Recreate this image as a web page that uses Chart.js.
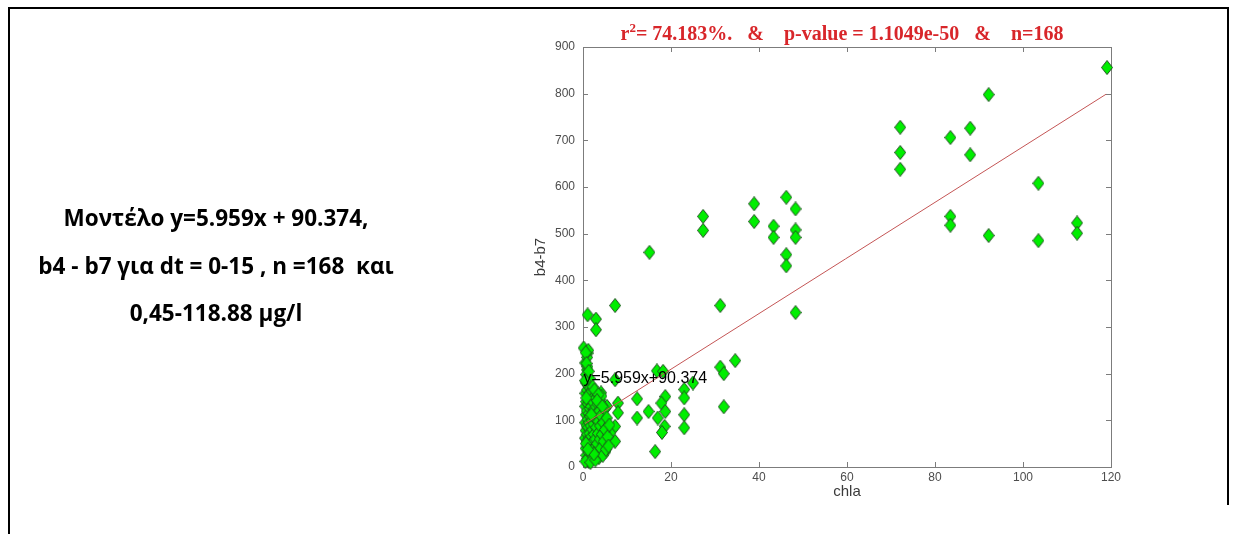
<!DOCTYPE html>
<html>
<head>
<meta charset="utf-8">
<script src="https://cdn.jsdelivr.net/npm/chart.js@4.4.0/dist/chart.umd.min.js"></script>
<style>
    html, body { margin: 0; padding: 0; background: #fff; }
    canvas { display: block; }
</style>
</head>
<body>
<canvas id="chlaScatter" width="1237" height="534"></canvas>
<script>
// chla (x) and b4-b7 (y)
const chlaValues = [
    15.1, 27.3, 27.3, 38.9, 38.9, 43.3, 43.3, 46.2, 46.2, 46.2, 48.3, 48.3, 48.3,
    119.1, 92.2, 72.1, 72.1, 72.1, 83.5, 88.0, 88.0, 103.5, 83.5, 83.5, 92.2, 103.5, 112.3, 112.3,
    31.2, 48.3, 34.6, 31.2, 32.0, 32.0,
    7.3, 1.05, 2.95, 2.95, 0.15, 1.05, 0.5, 0.9, 0.75, 7.3, 16.8, 18.2, 23.0, 23.0, 25.0,
    12.3, 12.3, 14.9, 17.0, 18.7, 17.8, 18.7, 18.55, 17.95, 16.4, 23.0, 23.0, 7.95, 7.95,
    7.3, 7.3, 5.1, 6.2, 4.1, 3.9, 5.45, 1.3,
    0.45, 0.5, 0.5, 0.55, 0.6, 0.6, 0.65, 0.7, 0.7, 0.75, 0.8, 0.8, 0.85, 0.9, 0.95, 1.0,
    1.0, 1.05, 1.1, 1.1, 1.15, 1.2, 1.2, 1.25, 1.3, 1.35, 1.4, 1.45, 1.5, 1.55, 1.6, 1.65,
    1.7, 1.75, 1.8, 1.85, 1.9, 2.0, 2.0, 2.1, 2.15, 2.2, 2.3, 2.35, 2.4, 2.5, 2.5, 2.6,
    2.7, 2.8, 2.9, 3.0, 3.0, 3.1, 3.2, 3.3, 3.4, 3.5, 3.6, 3.7, 3.8, 3.9, 4.0, 4.1,
    4.2, 4.3, 4.5, 4.6, 4.7, 4.9, 5.0, 5.2, 5.4, 5.6, 5.8, 6.0, 0.55, 1.2, 0.6, 1.0,
    0.7, 1.5, 2.2, 0.8, 1.3, 2.6, 3.5, 0.5, 1.7, 2.8, 0.65, 1.9, 3.2, 4.4, 2.45, 1.1, 0.75
]
const b4b7Values = [
    460, 537, 507, 564, 526, 516, 492, 578, 455, 431, 553, 508, 492,
    856, 798, 728, 674, 638, 706, 726, 669, 608, 537, 518, 496, 485, 523, 501,
    346, 331, 228, 214, 200, 129,
    346, 326, 317, 294, 255, 244, 223, 208, 183, 187, 206, 205, 166, 148, 180,
    146, 105, 119, 105, 151, 137, 119, 87, 74, 33, 112, 84, 137, 116,
    87, 55, 33, 73, 159, 144, 130, 12,
    62, 95, 130, 158, 40, 78, 112, 140, 198, 25, 55, 88, 120, 165, 235, 18,
    70, 102, 135, 150, 45, 85, 175, 60, 115, 30, 95, 142, 72, 125, 50, 108,
    160, 88, 35, 130, 65, 100, 145, 22, 80, 118, 55, 138, 92, 40, 70, 125,
    105, 60, 148, 30, 85, 115, 50, 135, 72, 98, 20, 120, 60, 88, 40, 110,
    152, 70, 25, 95, 55, 125, 80, 38, 105, 65, 45, 90, 12, 250, 245, 215,
    180, 190, 172, 222, 205, 165, 155, 185, 10, 15, 50, 112, 142, 130, 28, 38, 148
]
// fitted line end points (model y = 5.959x + 90.374 over 0.45..118.88)
const fitX = [0.45, 118.88]
const fitY = [93.06, 798.79]

const xTicks = [0, 20, 40, 60, 80, 100, 120]
const yTicks = [0, 100, 200, 300, 400, 500, 600, 700, 800, 900]

const xLabel = 'chla'
const yLabel = 'b4-b7'
const equationText = 'y=5.959x+90.374'
const equationAt = [0.1, 189]
const titleHead = 'r'
const titleSup = '2'
const titleTail = '= 74.183%.   &    p-value = 1.1049e-50   &    n=168'
const modelLines = [
    'Μοντέλο y=5.959x + 90.374,',
    'b4 - b7 για dt = 0-15 , n =168  και',
    '0,45-118.88 μg/l'
]

const points = chlaValues.map((v, i) => ({ x: v, y: b4b7Values[i] }))
const fitPoints = fitX.map((v, i) => ({ x: v, y: fitY[i] }))

const axisColor = '#7c7c7c'
const tickColor = '#4d4d4d'

// matlab-like diamond, a bit taller than wide
const diamond = document.createElement('canvas')
diamond.width = 12
diamond.height = 15
{
    const d = diamond.getContext('2d')
    d.beginPath()
    d.moveTo(6, 0.5); d.lineTo(11.5, 7.5); d.lineTo(6, 14.5); d.lineTo(0.5, 7.5)
    d.closePath()
    d.fillStyle = '#00ee00'
    d.fill()
    d.strokeStyle = '#1f4f1f'
    d.lineWidth = 1
    d.stroke()
}

const axesBox = {
    id: 'axesBox',
    beforeDatasetsDraw(chart) {
        const { ctx, chartArea: { left, right, top, bottom }, scales: { x, y } } = chart
        ctx.save()
        ctx.strokeStyle = axisColor
        ctx.lineWidth = 1
        ctx.strokeRect(Math.round(left) + 0.5, Math.round(top) + 0.5, Math.round(right - left), Math.round(bottom - top))
        ctx.beginPath()
        xTicks.forEach(v => {
            const px = Math.round(x.getPixelForValue(v)) + 0.5
            ctx.moveTo(px, bottom); ctx.lineTo(px, bottom - 5)
            ctx.moveTo(px, top); ctx.lineTo(px, top + 5)
        })
        yTicks.forEach(v => {
            const py = Math.round(y.getPixelForValue(v)) + 0.5
            ctx.moveTo(left, py); ctx.lineTo(left + 5, py)
            ctx.moveTo(right, py); ctx.lineTo(right - 5, py)
        })
        ctx.stroke()
        ctx.restore()
    }
}

const annotations = {
    id: 'annotations',
    afterDraw(chart) {
        const { ctx, chartArea: { left, right, top, bottom }, scales: { x, y } } = chart
        const midX = (left + right) / 2
        ctx.save()

        // outer frame of the page
        ctx.strokeStyle = '#000'
        ctx.lineWidth = 2
        ctx.beginPath()
        ctx.moveTo(9, 534); ctx.lineTo(9, 8); ctx.lineTo(1228, 8); ctx.lineTo(1228, 505)
        ctx.stroke()

        // equation text next to the cluster
        ctx.fillStyle = '#000'
        ctx.font = '16px "Liberation Sans", Arial, sans-serif'
        ctx.textAlign = 'left'
        ctx.textBaseline = 'middle'
        ctx.fillText(equationText, x.getPixelForValue(equationAt[0]), y.getPixelForValue(equationAt[1]))

        // axis titles
        ctx.fillStyle = '#3a3a3a'
        ctx.font = '15px "Liberation Sans", Arial, sans-serif'
        ctx.textAlign = 'center'
        ctx.fillText(xLabel, midX, bottom + 25)
        ctx.save()
        ctx.translate(left - 42, (top + bottom) / 2)
        ctx.rotate(-Math.PI / 2)
        ctx.fillText(yLabel, 0, 0)
        ctx.restore()

        // red title with superscript
        ctx.fillStyle = '#d8262a'
        ctx.textBaseline = 'alphabetic'
        ctx.textAlign = 'left'
        const bigFont = 'bold 20px "Liberation Serif", "Times New Roman", serif'
        const supFont = 'bold 13px "Liberation Serif", "Times New Roman", serif'
        ctx.font = bigFont
        const wHead = ctx.measureText(titleHead).width
        const wTail = ctx.measureText(titleTail).width
        ctx.font = supFont
        const wSup = ctx.measureText(titleSup).width
        let tx = midX - 5 - (wHead + wSup + wTail) / 2
        const ty = top - 7
        ctx.font = bigFont
        ctx.fillText(titleHead, tx, ty)
        tx += wHead
        ctx.font = supFont
        ctx.fillText(titleSup, tx, ty - 8)
        tx += wSup
        ctx.font = bigFont
        ctx.fillText(titleTail, tx, ty)

        // model description on the left
        ctx.fillStyle = '#000'
        ctx.font = 'bold 22.5px "Open Sans", sans-serif'
        ctx.textAlign = 'center'
        const baselines = [226, 274, 321]
        modelLines.forEach((t, i) => ctx.fillText(t, 216, baselines[i]))

        ctx.restore()
    }
}

new Chart(document.getElementById('chlaScatter'), {
    type: 'scatter',
    data: {
        datasets: [
            {
                type: 'line',
                label: 'fit',
                data: fitPoints,
                borderColor: '#c45555',
                borderWidth: 1,
                pointRadius: 0,
                fill: false,
                clip: false,
            },
            {
                label: 'b4-b7',
                data: points,
                pointStyle: diamond,
                pointRadius: 6.5,
                pointHoverRadius: 6.5,
                clip: false,
            }
        ]
    },
    plugins: [axesBox, annotations],
    options: {
        responsive: false,
        animation: false,
        events: [],
        layout: { padding: { left: 0, right: 126, top: 47, bottom: 0 } },
        scales: {
            x: {
                type: 'linear',
                min: 0,
                max: 120,
                afterFit: s => { s.height = 67 },
                afterBuildTicks: s => { s.ticks = xTicks.map(v => ({ value: v })) },
                grid: { display: false, drawTicks: false },
                border: { display: false },
                ticks: { color: tickColor, font: { size: 12, family: '"Liberation Sans", Arial' }, padding: 3, maxRotation: 0 },
            },
            y: {
                type: 'linear',
                min: 0,
                max: 900,
                afterFit: s => { s.width = 583 },
                afterBuildTicks: s => { s.ticks = yTicks.map(v => ({ value: v })) },
                grid: { display: false, drawTicks: false },
                border: { display: false },
                ticks: { color: tickColor, font: { size: 12, family: '"Liberation Sans", Arial' }, padding: 8 },
            }
        },
        plugins: {
            legend: { display: false },
            tooltip: { enabled: false },
            title: { display: false },
        }
    }
})
</script>
</body>
</html>
